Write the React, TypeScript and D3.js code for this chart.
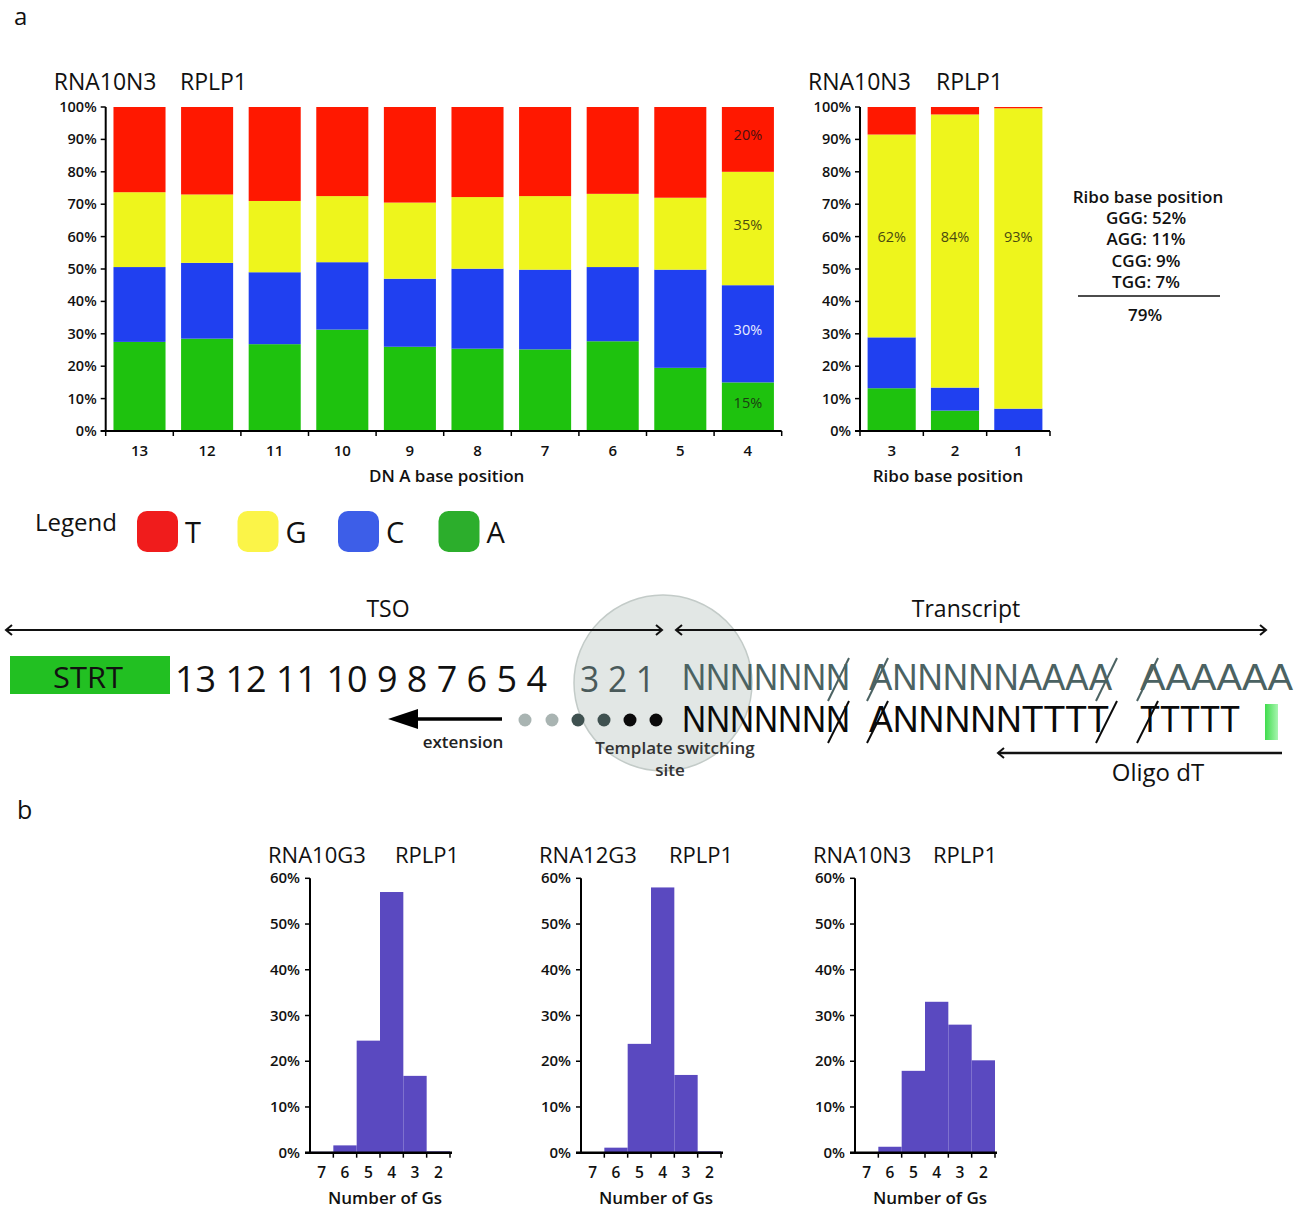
import React from "react";
import * as d3 from "d3";

// ---------- DATA ----------
const DNA_POS = ["13", "12", "11", "10", "9", "8", "7", "6", "5", "4"];
const DNA_A = [27.5, 28.5, 26.8, 31.3, 26.0, 25.4, 25.2, 27.7, 19.5, 15];
const DNA_C = [23.1, 23.4, 22.2, 20.8, 21.0, 24.7, 24.6, 22.9, 30.3, 30];
const DNA_G = [23.1, 21.1, 22.0, 20.4, 23.5, 22.1, 22.7, 22.6, 22.2, 35];
const DNA_T = [26.3, 27.0, 29.0, 27.5, 29.5, 27.8, 27.5, 26.8, 28.0, 20];
const DNA_LAST_LABELS = ["15%", "30%", "35%", "20%"]; // A, C, G, T

const RIBO_POS = ["3", "2", "1"];
const RIBO_A = [13.2, 6.3, 0];
const RIBO_C = [15.7, 7.1, 6.9];
const RIBO_G = [62.6, 84.3, 92.7];
const RIBO_T = [8.5, 2.3, 0.4];
const RIBO_LABELS = ["62%", "84%", "93%"];

const RIBO_SUMMARY = ["GGG: 52%", "AGG: 11%", "CGG: 9%", "TGG: 7%"];
const RIBO_TOTAL = "79%";

const G_COUNTS = ["7", "6", "5", "4", "3", "2"];
const HIST_10G3 = [0.2, 1.6, 24.5, 57.0, 16.8, 0.3];
const HIST_12G3 = [0.1, 1.1, 23.8, 58.0, 17.0, 0.3];
const HIST_10N3 = [0.1, 1.3, 17.9, 33.0, 28.0, 20.2];

const BASES = ["A", "C", "G", "T"];
const BASE_COLORS: Record<string, string> = {
  T: "#ff1800",
  G: "#eef51c",
  C: "#2040f0",
  A: "#1ec20e",
};
const LEGEND_ITEMS = ["T", "G", "C", "A"];
const LEGEND_COLORS: Record<string, string> = {
  T: "#f01c1c",
  G: "#fbf448",
  C: "#3d5ee8",
  A: "#2cae2c",
};

const FONT = "'Open Sans', 'Noto Sans', sans-serif";
const SEQ_FONT = "'Liberation Sans', Arial, sans-serif";
const HIST_COLOR = "#5a49c0";

// ---------- helpers ----------
type Row = { pos: string; A: number; C: number; G: number; T: number };

function buildRows(pos: string[], a: number[], c: number[], g: number[], t: number[]): Row[] {
  return pos.map((p, i) => ({ pos: p, A: a[i], C: c[i], G: g[i], T: t[i] }));
}

function StackedChart(props: {
  rows: Row[];
  x0: number;
  x1: number;
  padIn: number;
  padOut: number;
  xTitle: string;
  xTitleDx: number;
  titleA: string;
  titleB: string;
  titleBx: number;
  inBarLabels?: (bar: number) => { key: string; text: string; color: string; at?: number }[] | null;
}) {
  const { rows, x0, x1, padIn, padOut } = props;
  const y = d3.scaleLinear().domain([0, 100]).range([431, 107]);
  const x = d3
    .scaleBand<string>()
    .domain(rows.map((r) => r.pos))
    .range([x0, x1])
    .paddingInner(padIn)
    .paddingOuter(padOut);
  const series = d3.stack<Row>().keys(BASES)(rows);
  const step = x.step();
  const first = (x(rows[0].pos) as number) - (step * padIn) / 2;
  const boundaries = d3.range(rows.length + 1).map((i) => Math.min(x1, Math.max(x0, first + i * step)));
  const yTicks = d3.range(0, 101, 10);
  return (
    <g fontFamily={FONT}>
      <text x={x0 - 52} y={90} fontSize={23} fill="#111">
        {props.titleA}
      </text>
      <text x={props.titleBx} y={90} fontSize={23} fill="#111">
        {props.titleB}
      </text>
      {series.map((s) =>
        s.map((d, i) => (
          <rect
            key={s.key + i}
            x={x(rows[i].pos)}
            width={x.bandwidth()}
            y={y(d[1])}
            height={Math.max(0, y(d[0]) - y(d[1]))}
            fill={BASE_COLORS[s.key]}
          />
        ))
      )}
      {rows.map((r, i) => {
        const labels = props.inBarLabels ? props.inBarLabels(i) : null;
        if (!labels) return null;
        return labels.map((l) => {
          const si = BASES.indexOf(l.key);
          const d = series[si][i];
          const cy = l.at !== undefined ? y(l.at) : (y(d[0]) + y(d[1])) / 2 - 4;
          return (
            <text
              key={r.pos + l.key}
              x={(x(r.pos) as number) + x.bandwidth() / 2}
              y={cy + 5}
              fontSize={14.5}
              textAnchor="middle"
              fill={l.color}
            >
              {l.text}
            </text>
          );
        });
      })}
      {/* y axis */}
      <line x1={x0} x2={x0} y1={y(100)} y2={y(0)} stroke="#000" strokeWidth={2} />
      {yTicks.map((t) => (
        <g key={t}>
          <line x1={x0 - 5} x2={x0} y1={y(t)} y2={y(t)} stroke="#000" strokeWidth={1.5} />
          <text x={x0 - 9} y={y(t) + 5} fontSize={14.5} fontWeight={600} textAnchor="end" fill="#111">
            {t}%
          </text>
        </g>
      ))}
      {/* x axis */}
      <line x1={x0 - 5} x2={x1} y1={y(0)} y2={y(0)} stroke="#000" strokeWidth={2} />
      {boundaries.map((b, i) => (
        <line key={i} x1={b} x2={b} y1={y(0)} y2={y(0) + 5} stroke="#000" strokeWidth={1.5} />
      ))}
      {rows.map((r) => (
        <text
          key={r.pos}
          x={(x(r.pos) as number) + x.bandwidth() / 2}
          y={456}
          fontSize={15}
          fontWeight={600}
          textAnchor="middle"
          fill="#111"
        >
          {r.pos}
        </text>
      ))}
      <text x={(x0 + x1) / 2 + props.xTitleDx} y={482} fontSize={17} fontWeight={600} textAnchor="middle" fill="#111">
        {props.xTitle}
      </text>
    </g>
  );
}

function Histogram(props: { values: number[]; x0: number; titleA: string; titleB: string; titleBdx: number }) {
  const { values, x0 } = props;
  const x1 = x0 + 140;
  const y = d3.scaleLinear().domain([0, 60]).range([1152.7, 878.3]);
  const x = d3.scaleBand<string>().domain(G_COUNTS).range([x0, x1]).padding(0);
  const yTicks = d3.range(0, 61, 10);
  return (
    <g fontFamily={FONT}>
      <text x={x0 - 42} y={863} fontSize={22} fill="#111">
        {props.titleA}
      </text>
      <text x={x0 - 42 + props.titleBdx} y={863} fontSize={22} fill="#111">
        {props.titleB}
      </text>
      {G_COUNTS.map((g, i) => (
        <rect
          key={g}
          x={x(g)}
          width={x.bandwidth()}
          y={y(values[i])}
          height={y(0) - y(values[i])}
          fill={HIST_COLOR}
        />
      ))}
      <line x1={x0} x2={x0} y1={y(60)} y2={y(0)} stroke="#000" strokeWidth={2} />
      {yTicks.map((t) => (
        <g key={t}>
          <line x1={x0 - 5} x2={x0} y1={y(t)} y2={y(t)} stroke="#000" strokeWidth={1.5} />
          <text x={x0 - 10} y={y(t) + 5} fontSize={15} fontWeight={600} textAnchor="end" fill="#111">
            {t}%
          </text>
        </g>
      ))}
      <line x1={x0 - 5} x2={x1 + 2} y1={y(0)} y2={y(0)} stroke="#000" strokeWidth={2.5} />
      {G_COUNTS.map((g, i) => (
        <g key={g}>
          {i > 0 && (
            <line x1={x(g)} x2={x(g)} y1={y(0)} y2={y(0) + 5} stroke="#000" strokeWidth={1.5} />
          )}
          <text
            x={(x(g) as number) + x.bandwidth() / 2}
            y={1178}
            fontSize={15.5}
            fontWeight={600}
            textAnchor="middle"
            fill="#111"
          >
            {g}
          </text>
        </g>
      ))}
      <line x1={x1} x2={x1} y1={y(0)} y2={y(0) + 5} stroke="#000" strokeWidth={1.5} />
      <text x={(x0 + x1) / 2 + 5} y={1204} fontSize={17} fontWeight={600} textAnchor="middle" fill="#111">
        Number of Gs
      </text>
    </g>
  );
}

function Chevron({ x, y, dir }: { x: number; y: number; dir: number }) {
  // dir: -1 pointing left, +1 pointing right
  return (
    <path
      d={`M${x - dir * 6},${y - 5} L${x},${y} L${x - dir * 6},${y + 5}`}
      fill="none"
      stroke="#111"
      strokeWidth={2}
    />
  );
}

function Seq(props: { x: number; y: number; len: number; fill: string; children: string }) {
  return (
    <text
      x={props.x}
      y={props.y}
      fontFamily={SEQ_FONT}
      fontSize={36.5}
      fill={props.fill}
      textLength={props.len}
      lengthAdjust="spacingAndGlyphs"
    >
      {props.children}
    </text>
  );
}

function Diagram() {
  const seqTop = "#4b6262";
  const seqBot = "#0a0a0a";
  const dots = [
    { x: 525, c: "#a9b4b2" },
    { x: 552, c: "#a9b4b2" },
    { x: 578, c: "#3f5150" },
    { x: 604, c: "#3f5150" },
    { x: 630, c: "#0a0a0a" },
    { x: 656, c: "#0a0a0a" },
  ];
  return (
    <g fontFamily={FONT}>
      <defs>
        <linearGradient id="greenbar" x1="0" x2="1" y1="0" y2="0">
          <stop offset="0" stopColor="#3fdc4c" />
          <stop offset="1" stopColor="#a8f5b0" />
        </linearGradient>
      </defs>
      {/* template switching circle */}
      <ellipse cx={663} cy={683} rx={89} ry={88} fill="#e2e7e5" stroke="#c3cbc8" strokeWidth={1.5} />
      {/* TSO arrow */}
      <line x1={6} x2={662} y1={630} y2={630} stroke="#111" strokeWidth={2} />
      <Chevron x={6} y={630} dir={-1} />
      <Chevron x={662} y={630} dir={1} />
      <text x={388} y={617} fontSize={23} textAnchor="middle" fill="#111">
        TSO
      </text>
      {/* Transcript arrow */}
      <line x1={676} x2={1266} y1={630} y2={630} stroke="#111" strokeWidth={2} />
      <Chevron x={676} y={630} dir={-1} />
      <Chevron x={1266} y={630} dir={1} />
      <text x={966} y={617} fontSize={23} textAnchor="middle" fill="#111">
        Transcript
      </text>
      {/* STRT */}
      <rect x={10} y={656} width={160} height={38} fill="#22c022" />
      <text x={88} y={688} fontSize={29} textAnchor="middle" fill="#111" textLength={70} lengthAdjust="spacingAndGlyphs">
        STRT
      </text>
      <text x={175} y={692} fontSize={37} fill="#111" textLength={372} lengthAdjust="spacingAndGlyphs">
        13 12 11 10 9 8 7 6 5 4
      </text>
      <text x={580} y={692} fontSize={37} fill="#4a5a5a" textLength={75} lengthAdjust="spacingAndGlyphs">
        3 2 1
      </text>
      {/* top strand */}
      <Seq x={682} y={690} len={168} fill={seqTop}>NNNNNNN</Seq>
      <line x1={828} y1={701} x2={849} y2={658} stroke={seqTop} strokeWidth={2} />
      <Seq x={869} y={690} len={243} fill={seqTop}>ANNNNNAAAA</Seq>
      <line x1={867} y1={701} x2={888} y2={658} stroke={seqTop} strokeWidth={2} />
      <line x1={1096} y1={701} x2={1117} y2={658} stroke={seqTop} strokeWidth={2} />
      <Seq x={1140} y={690} len={153} fill={seqTop}>AAAAAA</Seq>
      <line x1={1137} y1={701} x2={1158} y2={658} stroke={seqTop} strokeWidth={2} />
      {/* bottom strand */}
      <Seq x={682} y={732} len={168} fill={seqBot}>NNNNNNN</Seq>
      <line x1={828} y1={743} x2={849} y2={701} stroke={seqBot} strokeWidth={2} />
      <Seq x={869} y={732} len={240} fill={seqBot}>ANNNNNTTTT</Seq>
      <line x1={867} y1={743} x2={888} y2={701} stroke={seqBot} strokeWidth={2} />
      <line x1={1096} y1={743} x2={1117} y2={701} stroke={seqBot} strokeWidth={2} />
      <Seq x={1140} y={732} len={100} fill={seqBot}>TTTTT</Seq>
      <line x1={1137} y1={743} x2={1158} y2={701} stroke={seqBot} strokeWidth={2} />
      <rect x={1265} y={704} width={13} height={36} fill="url(#greenbar)" />
      {/* dots */}
      {dots.map((d, i) => (
        <circle key={i} cx={d.x} cy={720} r={6.5} fill={d.c} />
      ))}
      {/* extension arrow */}
      <line x1={412} x2={502} y1={719} y2={719} stroke="#000" strokeWidth={3.5} />
      <path d="M388,719 L418,709 L418,729 Z" fill="#000" />
      <text x={463} y={748} fontSize={17} fontWeight={600} textAnchor="middle" fill="#222">
        extension
      </text>
      <text x={675} y={754} fontSize={17} fontWeight={600} textAnchor="middle" fill="#333">
        Template switching
      </text>
      <text x={670} y={776} fontSize={17} fontWeight={600} textAnchor="middle" fill="#333">
        site
      </text>
      {/* Oligo dT arrow */}
      <line x1={998} x2={1282} y1={753} y2={753} stroke="#111" strokeWidth={2.5} />
      <Chevron x={998} y={753} dir={-1} />
      <text x={1158} y={781} fontSize={24} textAnchor="middle" fill="#111">
        Oligo dT
      </text>
    </g>
  );
}

export default function App() {
  const dnaRows = buildRows(DNA_POS, DNA_A, DNA_C, DNA_G, DNA_T);
  const riboRows = buildRows(RIBO_POS, RIBO_A, RIBO_C, RIBO_G, RIBO_T);
  const lastColors = ["#1b3d12", "#e8ecff", "#4a4a10", "#4a1010"];
  return (
    <svg
      width={1307}
      height={1209}
      style={{ position: "absolute", left: 0, top: 0, background: "#fff" }}
      fontFamily={FONT}
    >
      <rect width={1307} height={1209} fill="#fff" />
      <text x={14} y={25} fontSize={24} fill="#111">
        a
      </text>
      <text x={17} y={819} fontSize={25} fill="#111">
        b
      </text>

      <StackedChart
        rows={dnaRows}
        x0={105.7}
        x1={781.7}
        padIn={0.23}
        padOut={0.115}
        xTitle="DN A base position"
        xTitleDx={3}
        titleA="RNA10N3"
        titleB="RPLP1"
        titleBx={180}
        inBarLabels={(i) =>
          i === DNA_POS.length - 1
            ? BASES.map((b, k) => ({ key: b, text: DNA_LAST_LABELS[k], color: lastColors[k] }))
            : null
        }
      />
      <StackedChart
        rows={riboRows}
        x0={860}
        x1={1050}
        padIn={0.24}
        padOut={0.12}
        xTitle="Ribo base position"
        xTitleDx={-7}
        titleA="RNA10N3"
        titleB="RPLP1"
        titleBx={936}
        inBarLabels={(i) => [{ key: "G", text: RIBO_LABELS[i], color: "#4a4a10", at: 60 }]}
      />

      {/* ribo summary */}
      <g fontFamily={FONT} fill="#111" textAnchor="middle" fontWeight={600}>
        <text x={1148} y={203} fontSize={17}>
          Ribo base position
        </text>
        {RIBO_SUMMARY.map((s, i) => (
          <text key={s} x={1146} y={224 + i * 21.3} fontSize={17}>
            {s}
          </text>
        ))}
        <line x1={1078} x2={1220} y1={296} y2={296} stroke="#111" strokeWidth={1.5} />
        <text x={1145} y={321} fontSize={17}>
          {RIBO_TOTAL}
        </text>
      </g>

      {/* legend */}
      <g fontFamily={FONT}>
        <text x={35} y={531} fontSize={24} fill="#111">
          Legend
        </text>
        {LEGEND_ITEMS.map((b, i) => (
          <g key={b}>
            <rect x={137 + i * 100.5} y={511} width={41} height={41} rx={10} fill={LEGEND_COLORS[b]} />
            <text x={185 + i * 100.5} y={543} fontSize={29} fill="#111">
              {b}
            </text>
          </g>
        ))}
      </g>

      <Diagram />

      <Histogram values={HIST_10G3} x0={310} titleA="RNA10G3" titleB="RPLP1" titleBdx={127} />
      <Histogram values={HIST_12G3} x0={581} titleA="RNA12G3" titleB="RPLP1" titleBdx={130} />
      <Histogram values={HIST_10N3} x0={855} titleA="RNA10N3" titleB="RPLP1" titleBdx={120} />
    </svg>
  );
}
